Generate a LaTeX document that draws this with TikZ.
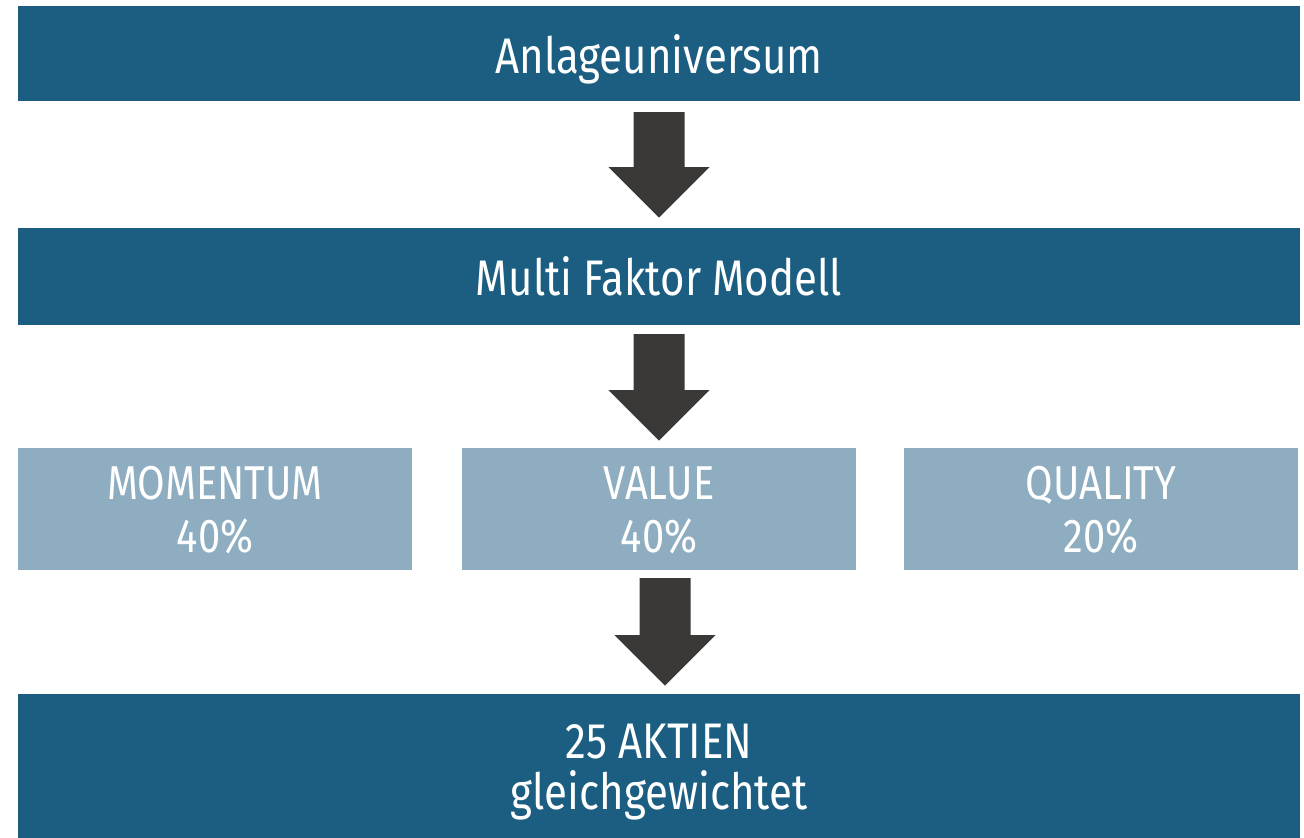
\documentclass[tikz,border=0pt]{standalone}
\usepackage{fontspec}
\setmainfont{Fira Sans}[FakeStretch=0.84]
\usetikzlibrary{calc}
\definecolor{darkbar}{HTML}{1B5E82}
\definecolor{lightbox}{HTML}{8EADC1}
\definecolor{arrowc}{HTML}{3A3937}
\tikzset{
  bar/.style={fill=darkbar, draw=none, minimum width=1282pt, inner sep=0pt},
  factor/.style={fill=lightbox, draw=none, minimum width=394pt, minimum height=122pt, inner sep=0pt},
  txt/.style={text=white, font=\fontsize{47.5}{53}\selectfont, inner sep=0pt, anchor=base},
  bigtxt/.style={text=white, font=\fontsize{50}{53}\selectfont, inner sep=0pt, anchor=base},
  blockarrow/.style={fill=arrowc, draw=none}
}
\newcommand{\downarrowblock}[2]{%
  \fill[blockarrow] (#1) ++(-25.5,0) -- ++(51,0) -- ++(0,#2) -- ++(25,0) -- ++(-50.5,50.5) -- ++(-50.5,-50.5) -- ++(25,0) -- cycle;}
\begin{document}
\begin{tikzpicture}[x=1pt,y=-1pt]
\useasboundingbox[fill=white] (0,0) rectangle (1304,838);
% bars
\node[bar, minimum height=95pt] (top) at (659,53.5) {};
\node[bar, minimum height=97pt] (model) at (659,276.5) {};
\node[factor] (mom) at (215,509) {};
\node[factor] (val) at (659,509) {};
\node[factor] (qual) at (1101,509) {};
\node[bar, minimum height=144pt] (result) at (659,766) {};
% texts
\node[bigtxt] (t1) at (659,73) {Anlageuniversum};
\node[bigtxt] (t2) at (659,295) {Multi Faktor Modell};
\node[txt] (m1) at (215,499) {MOMENTUM};
\node[txt] (m2) at (215,552) {40\%};
\node[txt] (v1) at (659,499) {VALUE};
\node[txt] (v2) at (659,552) {40\%};
\node[txt] (q1) at (1101,499) {QUALITY};
\node[txt] (q2) at (1101,552) {20\%};
\node[bigtxt] (r1) at (659,758) {25 AKTIEN};
\node[bigtxt] (r2) at (659,809) {gleichgewichtet};
% arrows
\coordinate (a1) at ($(top.south)+(0,11)$);
\coordinate (a2) at ($(model.south)+(0,9)$);
\coordinate (a3) at ($(val.south)+(6,8)$);
\downarrowblock{a1}{55}
\downarrowblock{a2}{56}
\downarrowblock{a3}{57}
\end{tikzpicture}
\end{document}
